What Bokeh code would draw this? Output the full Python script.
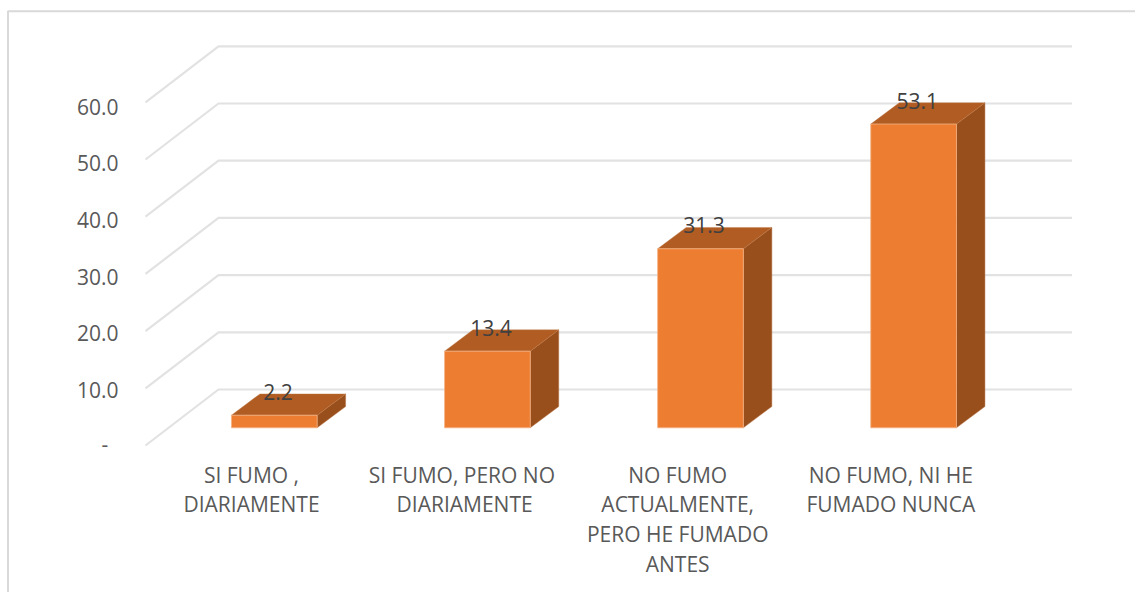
from bokeh.embed import file_html
from bokeh.resources import INLINE
from bokeh.plotting import figure
from bokeh.models import Range1d, LinearAxis, FixedTicker
from bokeh.core.properties import value

categories = ["SI FUMO ,\nDIARIAMENTE", "SI  FUMO, PERO NO\nDIARIAMENTE",
              "NO FUMO\nACTUALMENTE,\nPERO HE FUMADO\nANTES", "NO FUMO, NI HE\nFUMADO NUNCA"]
values = [2.2, 13.4, 31.3, 53.1]
labels = ["2.2", "13.4", "31.3", "53.1"]
ticks = [0, 10, 20, 30, 40, 50, 60]
tick_labels = ["-", "10.0", "20.0", "30.0", "40.0", "50.0", "60.0"]

W, H = 1135, 592
PX_X = 213.1        # pixels per category
PX_Y = 5.72         # pixels per value unit
X0_PX, Y0_PX = 251.0, 445.0   # pixel of category 0 (front plane centre), value 0

x_px = lambda d: d / PX_X
y_px = lambda d: d / PX_Y

p = figure(width=W, height=H, output_backend="svg", toolbar_location=None,
           x_axis_location=None, y_axis_location=None, min_border=0,
           x_range=Range1d(-X0_PX / PX_X, (W - X0_PX) / PX_X),
           y_range=Range1d(-(H - Y0_PX) / PX_Y, Y0_PX / PX_Y))
p.grid.visible = False
p.outline_line_color = None
p.background_fill_color = "white"

GRID = "#e2e2e2"
FONT = value("Open Sans")

# outer frame (left and top)
xs_l, xs_r = p.x_range.start, p.x_range.end
ys_b, ys_t = p.y_range.start, p.y_range.end
p.line([xs_l + x_px(7.5), xs_l + x_px(7.5), xs_r], [ys_b, ys_t - y_px(10.7), ys_t - y_px(10.7)],
       line_color="#d9d9d9", line_width=2)

# floor and wall gridlines
gx0, gx1, gx2 = x_px(145 - X0_PX), x_px(218 - X0_PX), x_px(1071.5 - X0_PX)
depth_y = y_px(56)
p.multi_line([[gx0, gx1, gx2] for _ in ticks],
             [[t, t + depth_y, t + depth_y] for t in ticks],
             line_color=GRID, line_width=2.2)

# 3-D columns
bar_w = x_px(85.7)
front_dx = x_px(22.8)          # column front plane relative to axis front plane
base = y_px(17.7)
dx, dy = x_px(28.5), y_px(21.3)
side_x, side_y, top_x, top_y, front_x, front_y = [], [], [], [], [], []
for i, v in enumerate(values):
    l = i + front_dx - bar_w / 2
    r = l + bar_w
    b = base
    t = base + v
    side_x.append([r, r + dx, r + dx, r]); side_y.append([b, b + dy, t + dy, t])
    top_x.append([l, r, r + dx, l + dx]); top_y.append([t, t, t + dy, t + dy])
    front_x.append([l, r, r, l]); front_y.append([b, b, t, t])
p.patches(side_x, side_y, fill_color="#984f1c", line_color="#b9764a", line_width=0.8, line_alpha=0.6)
p.patches(top_x, top_y, fill_color="#b05c22", line_color="#c07a48", line_width=0.8, line_alpha=0.5)
p.patches(front_x, front_y, fill_color="#ed7d31", line_color="#f4b183", line_width=1, line_alpha=0.8)

# value labels
p.text([i + front_dx + x_px(3.6) for i in range(len(values))],
       [base + v + y_px(23.5) for v in values], text=labels,
       text_font=FONT, text_font_size="21px", text_color="#404040",
       text_align="center", text_baseline="middle")

# category labels
p.text(list(range(len(categories))), [y_px(-15)] * len(categories), text=categories,
       text_font=FONT, text_font_size="21px", text_color="#595959",
       text_align="center", text_baseline="top", text_line_height=1.065)

# value axis (the zero label sits further in, as an accounting format does)
tick_end = 60 + 106 / 5.67
tick_start = 60 - (H - 106) / 5.67
p.extra_y_ranges["ticks"] = Range1d(tick_start, tick_end)
axis = LinearAxis(y_range_name="ticks", fixed_location=gx0, ticker=FixedTicker(ticks=ticks[1:]),
                  major_label_overrides=dict(zip(ticks[1:], tick_labels[1:])),
                  axis_line_color=None, major_tick_line_color=None, minor_tick_line_color=None,
                  major_label_standoff=21, major_label_text_color="#595959",
                  major_label_text_font="Open Sans", major_label_text_font_size="21px")
p.add_layout(axis, "left")
p.text([x_px(104.5 - X0_PX)], [ticks[0] + y_px(2)], text=tick_labels[:1],
       text_font=FONT, text_font_size="21px", text_color="#595959",
       text_align="center", text_baseline="middle")

open("out.html", "w").write(file_html(p, INLINE))
